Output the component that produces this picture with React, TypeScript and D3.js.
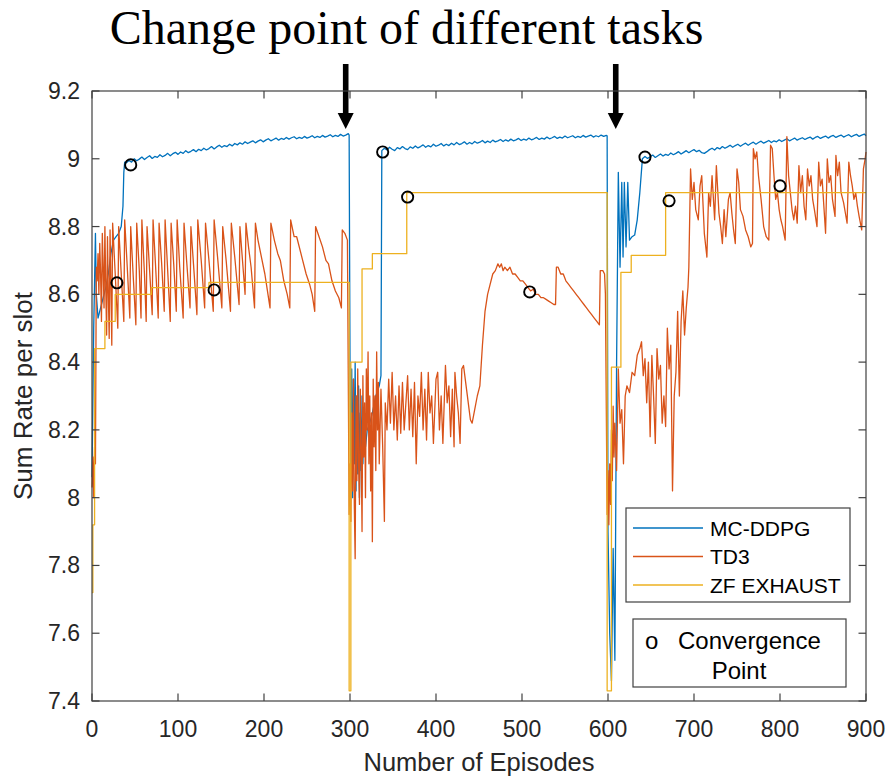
import * as d3 from "d3";

type Pt = [number, number];

// episodes / sum rate
const mcddpgTask1: Pt[] = [
  [0, 8.06], [2, 8.5], [4, 8.78], [5, 8.6], [7, 8.53], [10, 8.56], [13, 8.59], [16, 8.62],
  [19, 8.66], [22, 8.72], [25, 8.76], [28, 8.77], [31, 8.78], [34, 8.8], [36, 8.86], [37, 8.96],
  [38, 8.99], [40, 8.988], [43, 8.995], [46, 8.99], [49, 9.0], [52, 8.994], [55, 8.999],
  [58, 9.005], [61, 8.998], [64, 9.004], [67, 9.009], [70, 9.001], [73, 9.007], [76, 9.004],
  [79, 9.012], [82, 9.006], [85, 9.01], [88, 9.016], [91, 9.009], [94, 9.015], [97, 9.019],
  [100, 9.013], [103, 9.02], [106, 9.016], [109, 9.024], [112, 9.018], [115, 9.022], [118, 9.027],
  [121, 9.021], [124, 9.028], [127, 9.024], [130, 9.031], [133, 9.026], [136, 9.03], [139, 9.036],
  [142, 9.029], [145, 9.035], [148, 9.04], [151, 9.034], [154, 9.039], [157, 9.036], [160, 9.043],
  [163, 9.038], [166, 9.045], [169, 9.041], [172, 9.047], [175, 9.043], [178, 9.05], [181, 9.045],
  [184, 9.049], [187, 9.053], [190, 9.047], [193, 9.052], [196, 9.056], [199, 9.05], [202, 9.055],
  [205, 9.059], [208, 9.053], [211, 9.057], [214, 9.061], [217, 9.055], [220, 9.06], [223, 9.057],
  [226, 9.063], [229, 9.058], [232, 9.062], [235, 9.065], [238, 9.059], [241, 9.063], [244, 9.06],
  [247, 9.066], [250, 9.061], [253, 9.064], [256, 9.068], [259, 9.062], [262, 9.066], [265, 9.063],
  [268, 9.069], [271, 9.064], [274, 9.067], [277, 9.071], [280, 9.065], [283, 9.069], [286, 9.066],
  [289, 9.072], [292, 9.067], [295, 9.07], [298, 9.074], [299, 9.07],
];
const mcddpgTask2: Pt[] = [
  [300, 8.4], [301, 8.05], [302, 8.38], [303, 8.0], [304, 8.35], [305, 8.1], [306, 8.4],
  [307, 8.02], [308, 8.3], [309, 8.07], [310, 8.33], [311, 8.0], [312, 8.25], [313, 8.08],
  [314, 8.3], [315, 8.1], [316, 8.22], [318, 8.15], [320, 8.2], [323, 8.22], [326, 8.25],
  [330, 8.3], [334, 8.33], [336, 8.36], [337, 9.024], [340, 9.031], [343, 9.026], [346, 9.034],
  [349, 9.028], [352, 9.024], [355, 9.033], [358, 9.029], [361, 9.036], [364, 9.03], [367, 9.027],
  [370, 9.035], [373, 9.031], [376, 9.038], [379, 9.032], [382, 9.036], [385, 9.041], [388, 9.034],
  [391, 9.039], [394, 9.035], [397, 9.043], [400, 9.037], [403, 9.04], [406, 9.045], [409, 9.038],
  [412, 9.043], [415, 9.039], [418, 9.046], [421, 9.041], [424, 9.048], [427, 9.042], [430, 9.045],
  [433, 9.05], [436, 9.043], [439, 9.048], [442, 9.044], [445, 9.051], [448, 9.046], [451, 9.049],
  [454, 9.054], [457, 9.047], [460, 9.052], [463, 9.048], [466, 9.055], [469, 9.05], [472, 9.053],
  [475, 9.057], [478, 9.051], [481, 9.056], [484, 9.052], [487, 9.058], [490, 9.053], [493, 9.056],
  [496, 9.06], [499, 9.054], [502, 9.058], [505, 9.055], [508, 9.061], [511, 9.056], [514, 9.059],
  [517, 9.063], [520, 9.057], [523, 9.061], [526, 9.058], [529, 9.064], [532, 9.059], [535, 9.062],
  [538, 9.066], [541, 9.06], [544, 9.064], [547, 9.061], [550, 9.067], [553, 9.062], [556, 9.065],
  [559, 9.068], [562, 9.062], [565, 9.066], [568, 9.063], [571, 9.069], [574, 9.064], [577, 9.067],
  [580, 9.07], [583, 9.064], [586, 9.068], [589, 9.065], [592, 9.07], [595, 9.066], [598, 9.069],
  [599, 9.068],
];
const mcddpgTask3: Pt[] = [
  [600, 7.9], [602, 7.6], [604, 7.46], [606, 7.85], [608, 7.52], [610, 8.4], [612, 8.96],
  [614, 8.68], [616, 8.93], [617.5, 8.71], [619, 8.93], [621, 8.74], [623, 8.93], [625, 8.76],
  [628, 8.77], [631, 8.775], [634, 8.82], [637, 8.9], [640, 9.0], [643, 9.007], [646, 9.001],
  [649, 9.006], [652, 9.011], [655, 9.004], [658, 9.009], [661, 9.014], [664, 9.008], [667, 9.013],
  [670, 9.01], [673, 9.017], [676, 9.012], [679, 9.016], [682, 9.021], [685, 9.014], [688, 9.019],
  [691, 9.024], [694, 9.018], [697, 9.023], [700, 9.027], [703, 9.021], [706, 9.025], [709, 9.018],
  [712, 9.016], [715, 9.021], [718, 9.027], [721, 9.031], [724, 9.026], [727, 9.033], [730, 9.029],
  [733, 9.036], [736, 9.031], [739, 9.035], [742, 9.04], [745, 9.034], [748, 9.039], [751, 9.043],
  [754, 9.037], [757, 9.042], [760, 9.046], [763, 9.04], [766, 9.045], [769, 9.049], [772, 9.043],
  [775, 9.048], [778, 9.052], [781, 9.046], [784, 9.05], [787, 9.054], [790, 9.048], [793, 9.053],
  [796, 9.05], [799, 9.056], [802, 9.051], [805, 9.055], [808, 9.059], [811, 9.053], [814, 9.057],
  [817, 9.061], [820, 9.055], [823, 9.059], [826, 9.062], [829, 9.057], [832, 9.061], [835, 9.064],
  [838, 9.058], [841, 9.063], [844, 9.066], [847, 9.06], [850, 9.064], [853, 9.067], [856, 9.061],
  [859, 9.066], [862, 9.069], [865, 9.063], [868, 9.067], [871, 9.07], [874, 9.064], [877, 9.068],
  [880, 9.071], [883, 9.065], [886, 9.069], [889, 9.072], [892, 9.066], [895, 9.07], [898, 9.073],
  [900, 9.068],
];

const td3Task1: Pt[] = [
  [0, 8.03], [1, 8.12], [2, 8.0], [3, 8.15], [4, 8.1], [5, 8.68], [6, 8.64], [7, 8.72], [8, 8.6],
  [9, 8.75], [10, 8.66], [11, 8.52], [12, 8.78], [13, 8.68], [14, 8.56], [15, 8.8], [16, 8.62],
  [17, 8.48], [18, 8.77], [19, 8.6], [20, 8.47], [21, 8.79], [22, 8.63], [23, 8.45],
  [24, 8.81], [27, 8.66], [30, 8.5], [31, 8.8], [34, 8.66], [37, 8.52], [38, 8.82], [41, 8.68],
  [44, 8.53], [45, 8.8], [48, 8.65], [51, 8.51], [52, 8.81], [55, 8.67], [57, 8.53], [58, 8.82],
  [61, 8.66], [63, 8.52], [64, 8.8], [67, 8.67], [70, 8.54], [71, 8.82], [74, 8.68], [77, 8.53],
  [78, 8.81], [81, 8.69], [84, 8.55], [85, 8.82], [88, 8.67], [91, 8.52], [92, 8.81], [95, 8.69],
  [98, 8.55], [99, 8.82], [102, 8.68], [106, 8.53], [107, 8.81], [110, 8.7], [114, 8.56],
  [115, 8.8], [118, 8.69], [122, 8.54], [123, 8.82], [127, 8.7], [131, 8.56], [132, 8.81],
  [136, 8.7], [141, 8.55], [142, 8.82], [146, 8.71], [151, 8.56], [152, 8.8], [156, 8.7],
  [161, 8.55], [162, 8.81], [166, 8.71], [171, 8.57], [172, 8.8], [175, 8.7], [178, 8.6],
  [179, 8.81], [182, 8.74], [185, 8.68], [189, 8.56], [190, 8.81], [193, 8.76], [197, 8.71],
  [201, 8.66], [204, 8.61], [207, 8.56], [208, 8.81], [212, 8.76], [216, 8.72], [219, 8.7],
  [223, 8.64], [227, 8.6], [230, 8.56], [231, 8.82], [235, 8.77], [238, 8.77], [244, 8.71],
  [249, 8.66], [253, 8.63], [256, 8.6], [259, 8.55], [260, 8.8], [264, 8.77], [268, 8.74],
  [272, 8.7], [275, 8.69], [279, 8.64], [283, 8.61], [287, 8.59], [290, 8.56], [291, 8.79],
  [294, 8.78], [297, 8.76],
];
const td3Task2: Pt[] = [
  [299, 7.95], [300, 8.1], [301, 7.93], [302, 8.25], [303, 8.02], [304, 8.35], [305, 7.98],
  [306, 7.82], [307, 8.3], [308, 8.05], [309, 8.38], [310, 8.1], [311, 7.98], [312, 8.32],
  [313, 8.15], [314, 7.9], [315, 8.36], [316, 8.12], [317, 8.28], [318, 8.0], [319, 8.38],
  [320, 8.2], [321, 8.43], [322, 8.1], [323, 8.3], [324, 8.02], [325, 8.25], [326, 7.87],
  [327, 8.35], [328, 8.15], [329, 8.3], [330, 8.08], [331, 8.43], [332, 8.2], [333, 8.34],
  [334, 8.1], [336, 8.32], [338, 8.15], [340, 7.93], [341, 8.28], [343, 8.2], [345, 8.35],
  [347, 8.22], [349, 8.37], [351, 8.2], [353, 8.3], [355, 8.17], [357, 8.33], [359, 8.19],
  [361, 8.34], [363, 8.2], [365, 8.28], [367, 8.36], [369, 8.2], [371, 8.32], [373, 8.18],
  [375, 8.34], [377, 8.1], [379, 8.3], [381, 8.24], [383, 8.37], [385, 8.2], [387, 8.32],
  [389, 8.17], [391, 8.37], [393, 8.25], [395, 8.3], [397, 8.16], [400, 8.35], [402, 8.37],
  [404, 8.2], [406, 8.3], [408, 8.16], [411, 8.39], [413, 8.28], [415, 8.33], [417, 8.18],
  [419, 8.32], [421, 8.15], [422, 8.37], [424, 8.3], [426, 8.25], [428, 8.16], [430, 8.38],
  [432, 8.39], [434, 8.35], [437, 8.29], [440, 8.23], [442, 8.22], [445, 8.26], [448, 8.3],
  [451, 8.33], [454, 8.45], [457, 8.55], [460, 8.6], [463, 8.63], [466, 8.66], [469, 8.67],
  [472, 8.69], [474, 8.68], [476, 8.69], [478, 8.67], [480, 8.68], [483, 8.67], [486, 8.68],
  [489, 8.66], [492, 8.66], [495, 8.65], [498, 8.64], [501, 8.64], [504, 8.63], [507, 8.62],
  [510, 8.61], [513, 8.615], [516, 8.6], [519, 8.6], [522, 8.59], [525, 8.59], [528, 8.585],
  [531, 8.58], [534, 8.575], [537, 8.57], [539, 8.57], [540, 8.68], [542, 8.68], [545, 8.66],
  [548, 8.66], [551, 8.64], [554, 8.63], [557, 8.62], [560, 8.61], [563, 8.6], [566, 8.59],
  [569, 8.58], [572, 8.57], [575, 8.56], [578, 8.55], [581, 8.54], [584, 8.53], [587, 8.52],
  [590, 8.51], [591, 8.67], [594, 8.67], [596, 8.66], [597, 8.6],
];
const td3Task3: Pt[] = [
  [599, 7.95], [600, 8.08], [601, 7.92], [602, 8.1], [603, 7.98], [604, 8.2], [605, 8.05],
  [606, 8.27], [607, 8.12], [608, 8.22], [610, 8.08], [612, 8.38], [614, 8.22], [616, 8.26],
  [618, 8.1], [620, 8.3], [622, 8.33], [625, 8.31], [628, 8.37], [631, 8.36], [634, 8.42],
  [637, 8.44], [639, 8.46], [641, 8.36], [643, 8.41], [645, 8.28], [647, 8.4], [649, 8.18],
  [651, 8.42], [653, 8.3], [655, 8.16], [657, 8.44], [659, 8.35], [661, 8.39], [663, 8.22],
  [665, 8.3], [667, 8.21], [669, 8.5], [671, 8.38], [673, 8.45], [675, 8.02], [677, 8.3],
  [679, 8.37], [681, 8.55], [683, 8.3], [685, 8.52], [687, 8.61], [689, 8.48], [691, 8.56],
  [693, 8.62], [694, 8.68], [696, 8.97], [698, 8.88], [700, 8.93], [702, 8.85], [705, 8.82],
  [707, 8.92], [709, 8.95], [712, 8.78], [715, 8.71], [717, 8.9], [719, 8.86], [721, 8.95],
  [724, 8.82], [726, 8.98], [729, 8.84], [731, 8.8], [733, 8.75], [735, 8.85], [737, 8.77],
  [740, 8.88], [742, 8.9], [744, 8.84], [746, 8.79], [748, 8.75], [750, 8.97], [752, 8.93],
  [754, 8.85], [757, 8.83], [760, 8.79], [763, 8.77], [766, 8.74], [768, 8.75], [769, 9.03],
  [771, 9.0], [773, 9.02], [775, 8.95], [778, 8.88], [781, 8.8], [784, 8.77], [787, 8.76],
  [789, 9.04], [791, 9.03], [793, 8.95], [795, 8.88], [797, 8.9], [799, 8.85], [801, 8.82],
  [803, 8.8], [806, 8.76], [808, 9.065], [810, 8.95], [812, 8.9], [814, 8.85], [816, 8.82],
  [818, 8.86], [820, 8.81], [822, 8.98], [824, 8.9], [826, 8.95], [828, 8.86], [830, 8.82],
  [832, 8.97], [834, 8.92], [836, 8.95], [838, 8.88], [840, 8.85], [843, 8.8], [845, 8.99],
  [847, 8.92], [849, 8.94], [851, 8.86], [853, 8.78], [855, 9.0], [857, 8.93], [859, 8.95],
  [861, 8.88], [864, 8.83], [865, 9.01], [867, 8.95], [869, 8.99], [871, 8.9], [874, 8.87],
  [876, 8.84], [878, 8.81], [880, 8.99], [882, 8.95], [884, 8.92], [886, 8.88], [888, 8.9],
  [890, 8.86], [892, 8.83], [895, 8.79], [897, 8.97], [899, 9.0], [900, 9.02],
];

// exhaustive zero-forcing: piecewise constant, value holds until next entry
const zfExhaust: Pt[] = [
  [0, 7.72], [1, 7.92], [3, 8.44], [15, 8.52], [27, 8.6], [69, 8.62], [136, 8.635],
  [299, 7.43], [301, 8.4], [314, 8.675], [326, 8.72], [366, 8.9],
  [599, 7.43], [604, 8.385], [615, 8.665], [627, 8.715], [667, 8.9], [900, 8.9],
];

const convergencePoints: Pt[] = [
  [45, 8.982], [29, 8.634], [142, 8.613], [338, 9.02], [367, 8.887],
  [509, 8.607], [643, 9.005], [671, 8.876], [800, 8.92],
];

const changePoints = [295, 609];
const xTicks = [0, 100, 200, 300, 400, 500, 600, 700, 800, 900];
const yTicks = [7.4, 7.6, 7.8, 8, 8.2, 8.4, 8.6, 8.8, 9, 9.2];

const seriesNames = ["MC-DDPG", "TD3", "ZF EXHAUST"];
const colors = ["#0072BD", "#D95319", "#EDB120"];

const width = 891;
const height = 777;
const left = 92;
const right = 866;
const top = 91;
const bottom = 701;
const axisColor = "#404040";
const sans = "'Liberation Sans', Arial, sans-serif";

export default function App() {
  const x = d3.scaleLinear([0, 900], [left, right]);
  const y = d3.scaleLinear([7.4, 9.2], [bottom, top]);
  const line = d3.line<Pt>((d) => x(d[0]), (d) => y(d[1]));
  const stepLine = d3.line<Pt>((d) => x(d[0]), (d) => y(d[1])).curve(d3.curveStepAfter);

  const mc = [...mcddpgTask1, ...mcddpgTask2, ...mcddpgTask3];
  const td3 = [...td3Task1, ...td3Task2, ...td3Task3];
  const tick = 7.5;

  return (
    <svg
      width={width}
      height={height}
      style={{ position: "absolute", left: 0, top: 0, background: "#fff" }}
    >
      <text
        x={406.5}
        y={44}
        textAnchor="middle"
        fontFamily="'Liberation Serif', 'Times New Roman', serif"
        fontSize={48}
        fill="#000"
      >
        Change point of different tasks
      </text>

      {/* arrows marking the task switch */}
      {changePoints.map((c) => {
        const cx = x(c);
        return (
          <g key={c} fill="#000">
            <rect x={cx - 2.8} y={64} width={5.6} height={52} />
            <path d={`M${cx - 8},113 L${cx + 8},113 L${cx},129 Z`} />
          </g>
        );
      })}

      <g fill="none" strokeWidth={1.3} strokeLinejoin="round">
        <path d={line(mc) as string} stroke={colors[0]} />
        <path d={line(td3) as string} stroke={colors[1]} />
        <path d={stepLine(zfExhaust) as string} stroke={colors[2]} />
      </g>

      <g fill="none" stroke="#000" strokeWidth={1.9}>
        {convergencePoints.map((p, i) => (
          <circle key={i} cx={x(p[0])} cy={y(p[1])} r={5.6} />
        ))}
      </g>

      {/* axes box with inward ticks */}
      <rect
        x={left}
        y={top}
        width={right - left}
        height={bottom - top}
        fill="none"
        stroke={axisColor}
        strokeWidth={1.2}
      />
      <g stroke={axisColor} strokeWidth={1.2}>
        {xTicks.map((t) => (
          <g key={t}>
            <line x1={x(t)} x2={x(t)} y1={bottom} y2={bottom - tick} />
            <line x1={x(t)} x2={x(t)} y1={top} y2={top + tick} />
          </g>
        ))}
        {yTicks.map((t) => (
          <g key={t}>
            <line x1={left} x2={left + tick} y1={y(t)} y2={y(t)} />
            <line x1={right} x2={right - tick} y1={y(t)} y2={y(t)} />
          </g>
        ))}
      </g>
      <g fontFamily={sans} fill="#262626">
        {xTicks.map((t) => (
          <text key={t} x={x(t)} y={737} textAnchor="middle" fontSize={23}>
            {t}
          </text>
        ))}
        {yTicks.map((t) => (
          <text key={t} x={80} y={y(t) + 8} textAnchor="end" fontSize={23}>
            {d3.format("~g")(t)}
          </text>
        ))}
        <text x={(left + right) / 2} y={771} textAnchor="middle" fontSize={25.5}>
          Number of Episodes
        </text>
        <text
          transform={`translate(32,${(top + bottom) / 2}) rotate(-90)`}
          textAnchor="middle"
          fontSize={26}
        >
          Sum Rate per slot
        </text>
      </g>

      {/* legend */}
      <g fontFamily={sans} fontSize={21} fill="#000">
        <rect x={626} y={508} width={224} height={94} fill="#fff" stroke={axisColor} strokeWidth={1.2} />
        {seriesNames.map((name, i) => {
          const ly = 528 + i * 28.5;
          return (
            <g key={name}>
              <line x1={633} x2={703} y1={ly} y2={ly} stroke={colors[i]} strokeWidth={1.3} />
              <text x={710} y={ly + 7.5}>
                {name}
              </text>
            </g>
          );
        })}
        <rect x={633} y={619} width={213} height={68} fill="#fff" stroke={axisColor} strokeWidth={1.2} />
        <text x={645} y={649} fontSize={24}>
          o
        </text>
        <text x={678} y={649} fontSize={24}>
          Convergence
        </text>
        <text x={739} y={679} fontSize={24} textAnchor="middle">
          Point
        </text>
      </g>
    </svg>
  );
}
